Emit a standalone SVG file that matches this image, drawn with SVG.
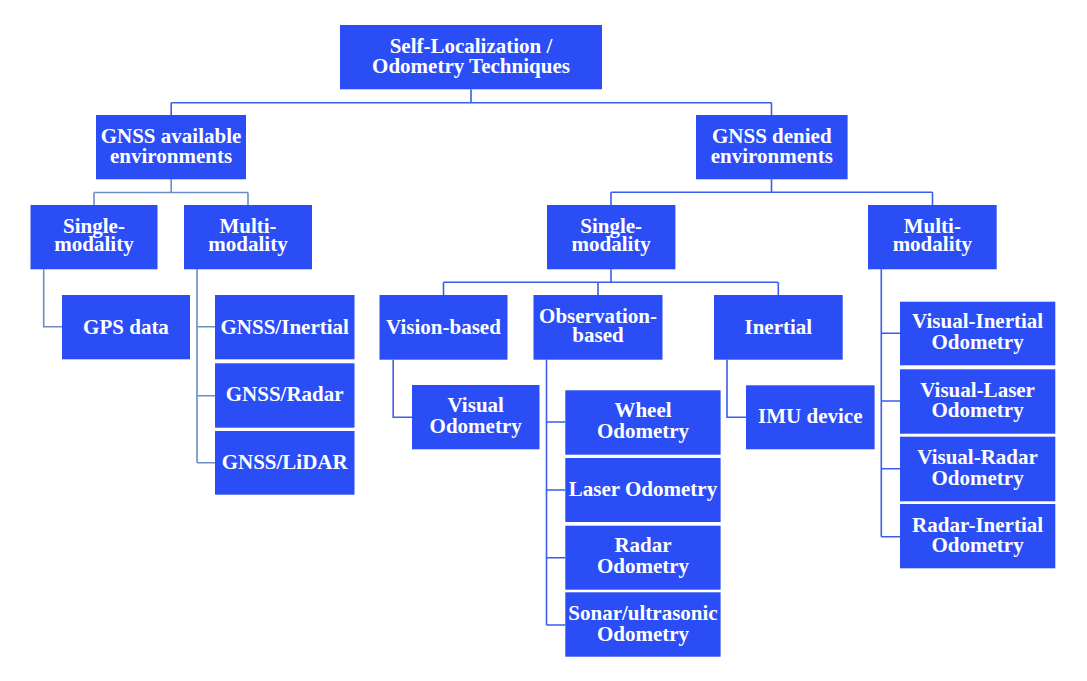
<svg xmlns="http://www.w3.org/2000/svg" width="1087" height="681" viewBox="0 0 1087 681">
<style>
.n rect{fill:#2a4df5;}
.n text{fill:#ffffff;font-family:"Liberation Serif","Times New Roman",serif;font-weight:bold;font-size:21px;text-anchor:middle;}
.c path{fill:none;stroke-width:1.6;}
.blue path{stroke:#3a5cef;}
.steel path{stroke:#6b8dc6;}
</style>
<rect x="0" y="0" width="1087" height="681" fill="#ffffff"/>
<g id="connectors" class="c">
  <g class="blue">
    <path d="M471,89.3 V102.7 M171.2,102.7 H771.5 M171.2,102.7 V115 M771.5,102.7 V115"/>
    <path d="M771.5,179.3 V192.3 M611,192.3 H932.5 M611,192.3 V205 M932.5,192.3 V205"/>
    <path d="M611,269.3 V282.3 M443.5,282.3 H778.3 M443.5,282.3 V295 M598,282.3 V295 M778.3,282.3 V295"/>
    <path d="M393.2,359.7 V417.3 H412"/>
    <path d="M546.5,359.7 V625 M546.5,422 H565.3 M546.5,490 H565.3 M546.5,557.7 H565.3 M546.5,625 H565.3"/>
    <path d="M727,359.7 V417.3 H746"/>
    <path d="M881.3,269.3 V536.7 M881.3,333.3 H900 M881.3,401 H900 M881.3,468.7 H900 M881.3,536.7 H900"/>
  </g>
  <g class="steel">
    <path d="M171.2,179.3 V192.5 M94,192.5 H248 M94,192.5 V205 M248,192.5 V205"/>
    <path d="M43.7,269.3 V326.7 H62"/>
    <path d="M197,269.3 V462.7 M197,326.7 H215 M197,395.7 H215 M197,462.7 H215"/>
  </g>
</g>
<g id="root" class="n"><rect x="340" y="25" width="262" height="64.3"/><text x="471" y="52.7">Self-Localization /</text><text x="471" y="73.3">Odometry Techniques</text></g>
<g id="gnss-available" class="n"><rect x="96" y="115" width="150" height="64.3"/><text x="171" y="142.7">GNSS available</text><text x="171" y="163.3">environments</text></g>
<g id="gnss-denied" class="n"><rect x="696" y="115" width="151.6" height="64.3"/><text x="771.8" y="142.7">GNSS denied</text><text x="771.8" y="163.3">environments</text></g>
<g id="single-left" class="n"><rect x="30.5" y="205" width="127" height="64.3"/><text x="94" y="232.7">Single-</text><text x="94" y="251">modality</text></g>
<g id="multi-left" class="n"><rect x="184" y="205" width="128" height="64.3"/><text x="248" y="232.7">Multi-</text><text x="248" y="251">modality</text></g>
<g id="single-right" class="n"><rect x="547" y="205" width="128.4" height="64.3"/><text x="611.2" y="232.7">Single-</text><text x="611.2" y="251">modality</text></g>
<g id="multi-right" class="n"><rect x="868" y="205" width="128.7" height="64.3"/><text x="932.3" y="232.7">Multi-</text><text x="932.3" y="251">modality</text></g>
<g id="gps-data" class="n"><rect x="62" y="295" width="128" height="64.3"/><text x="126" y="333.5">GPS data</text></g>
<g id="gnss-inertial" class="n"><rect x="215" y="295" width="139.5" height="64.3"/><text x="284.7" y="333.5">GNSS/Inertial</text></g>
<g id="gnss-radar" class="n"><rect x="215" y="363.3" width="139.5" height="64.4"/><text x="284.7" y="401">GNSS/Radar</text></g>
<g id="gnss-lidar" class="n"><rect x="215" y="431" width="139.5" height="63.7"/><text x="284.7" y="469">GNSS/LiDAR</text></g>
<g id="vision-based" class="n"><rect x="379.5" y="295" width="128" height="64.7"/><text x="443.5" y="333.5">Vision-based</text></g>
<g id="observation-based" class="n"><rect x="533.5" y="295" width="129" height="64.7"/><text x="598" y="322.7">Observation-</text><text x="598" y="341.7">based</text></g>
<g id="inertial" class="n"><rect x="714" y="295" width="128.7" height="64.7"/><text x="778.3" y="333.5">Inertial</text></g>
<g id="visual-odometry" class="n"><rect x="412" y="385" width="127.5" height="64.3"/><text x="475.7" y="411.7">Visual</text><text x="475.7" y="432.7">Odometry</text></g>
<g id="wheel-odometry" class="n"><rect x="565.3" y="390.3" width="155.3" height="64.4"/><text x="643" y="417.3">Wheel</text><text x="643" y="438.3">Odometry</text></g>
<g id="laser-odometry" class="n"><rect x="565.3" y="458" width="155.3" height="64"/><text x="643" y="495.5">Laser Odometry</text></g>
<g id="radar-odometry" class="n"><rect x="565.3" y="525.7" width="155.3" height="64"/><text x="643" y="551.7">Radar</text><text x="643" y="572.7">Odometry</text></g>
<g id="sonar-odometry" class="n"><rect x="565.3" y="592.3" width="155.3" height="64.4"/><text x="643" y="620">Sonar/ultrasonic</text><text x="643" y="641">Odometry</text></g>
<g id="imu-device" class="n"><rect x="746" y="385.3" width="128.6" height="64"/><text x="810.3" y="423">IMU device</text></g>
<g id="visual-inertial" class="n"><rect x="900" y="301.7" width="155.3" height="63.6"/><text x="977.6" y="328.3">Visual-Inertial</text><text x="977.6" y="348.7">Odometry</text></g>
<g id="visual-laser" class="n"><rect x="900" y="369.3" width="155.3" height="64.4"/><text x="977.6" y="396.7">Visual-Laser</text><text x="977.6" y="417.3">Odometry</text></g>
<g id="visual-radar" class="n"><rect x="900" y="436.7" width="155.3" height="64.6"/><text x="977.6" y="464.3">Visual-Radar</text><text x="977.6" y="485">Odometry</text></g>
<g id="radar-inertial" class="n"><rect x="900" y="504" width="155.3" height="64.3"/><text x="977.6" y="531.7">Radar-Inertial</text><text x="977.6" y="552.3">Odometry</text></g>
</svg>
